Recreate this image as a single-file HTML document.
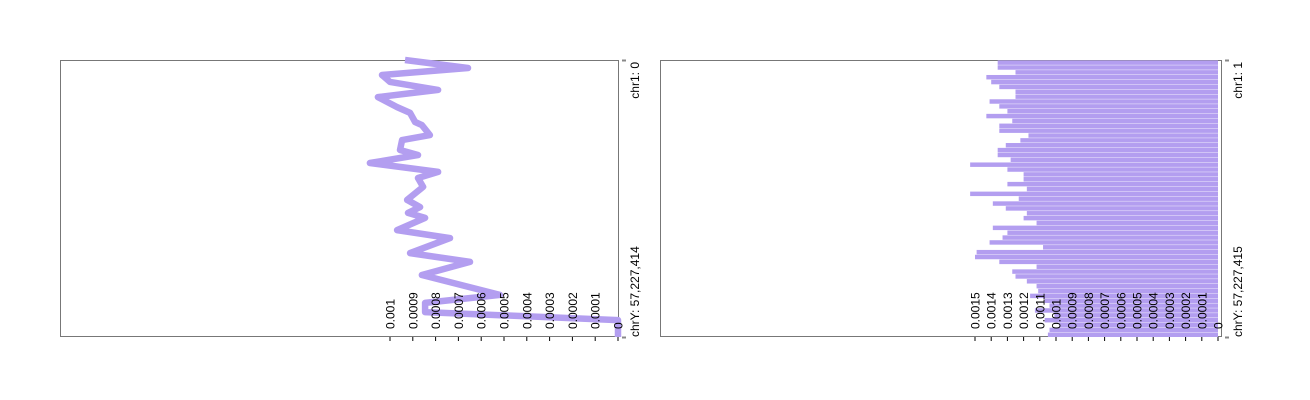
<!DOCTYPE html>
<html><head><meta charset="utf-8"><style>
html,body{margin:0;padding:0;background:#fff;overflow:hidden;}
svg{display:block;font-family:"Liberation Sans",Arial,sans-serif;}
</style></head><body>
<svg id="chart" width="1310" height="400" viewBox="0 0 1310 400">
<rect x="60.5" y="60.5" width="558" height="276" fill="none" stroke="#777"/>
<rect x="660.5" y="60.5" width="561" height="276" fill="none" stroke="#777"/>
<g id="left"></g>
<g id="right"></g>
</svg>
<script>
// Left track: genome position (% of genome) and value (units of 1e-4)
const linePos = [0,2.9,5.4,7.9,10.8,13.4,17.0,19.1,22.4,23.5,27.1,28.9,32.5,34.3,37.2,40.4,42.6,45.8,50.5,53.1,55.2,57.0,61.4,64.3,69.7,72.9,77.6,84.8,87.7,91.0,93.9,100];
const lineVal = [9.34,6.58,10.35,10.0,7.89,10.53,9.69,9.12,8.90,8.60,8.25,9.47,9.56,8.77,10.88,7.89,8.77,8.55,9.25,8.68,9.21,8.46,9.69,7.37,9.12,6.49,8.60,5.18,8.46,8.46,0,0];
const leftTicks = ["0","0.0001","0.0002","0.0003","0.0004","0.0005","0.0006","0.0007","0.0008","0.0009","0.001"];
// Right track: binned values (units of 1e-4), top to bottom
const barVal = [13.6,13.6,12.5,14.3,14.0,13.5,12.5,12.5,14.1,13.5,13.0,14.3,12.7,13.5,13.5,11.7,12.2,13.1,13.6,13.6,12.8,15.3,13.0,12.0,12.0,13.0,11.8,15.3,12.3,13.9,13.1,11.8,12.0,11.2,13.9,13.0,13.3,14.1,10.8,14.9,15.0,13.5,11.2,12.7,12.5,11.8,11.2,11.1,11.6,10.7,10.4,11.3,10.1,10.7,9.8,10.4,10.5];
const rightTicks = ["0","0.0001","0.0002","0.0003","0.0004","0.0005","0.0006","0.0007","0.0008","0.0009","0.001","0.0011","0.0012","0.0013","0.0014","0.0015"];
const leftLabels = ["chr1: 0","chrY: 57,227,414"];
const rightLabels = ["chr1: 1","chrY: 57,227,415"];

const NS="http://www.w3.org/2000/svg";
const yTop=60, yBot=337;
function mk(parent,tag,attrs){const e=document.createElementNS(NS,tag);for(const k in attrs)e.setAttribute(k,attrs[k]);parent.appendChild(e);return e;}
const yPos=p=>yTop+(p/100)*(yBot-yTop);
const xL=v=>618-v*22.8;
const xR=v=>1218-v*16.2;

function axis(g,ticks,xf,name,edgeX,labels){
  ticks.forEach((t,i)=>{
    const x=xf(i);
    const tk=mk(g,"line",{x1:x,x2:x,y1:yBot,y2:yBot+4,stroke:"#000","stroke-width":1});
    
    
    const tx=mk(g,"text",{x:0,y:0,transform:`translate(${x+4.5},${yBot-8}) rotate(-90)`,"font-size":12,fill:"#000"});
    tx.textContent=t;
    
    
  });
  [yTop,yBot].forEach(y=>{
    const l=mk(g,"line",{x1:edgeX+3,x2:edgeX+7,y1:y+0.5,y2:y+0.5,stroke:"#888","stroke-width":2});
    
    
  });
  const a=mk(g,"text",{transform:`translate(${edgeX+20},${yTop+2}) rotate(-90)`,"text-anchor":"end","font-size":12});
  a.textContent=labels[0];
  
  
  const b=mk(g,"text",{transform:`translate(${edgeX+20},${yBot}) rotate(-90)`,"text-anchor":"start","font-size":12});
  b.textContent=labels[1];
  
  
}

const L=document.getElementById('left');
const pts=linePos.map((p,i)=>xL(lineVal[i]).toFixed(1)+","+yPos(p).toFixed(1)).join(" ");
const pl=mk(L,"polyline",{points:pts,fill:"none",stroke:"#b39ef0","stroke-width":6.5,"stroke-linejoin":"round","stroke-linecap":"butt"});


axis(L,leftTicks,xL,'left-axis',619,leftLabels);

const R=document.getElementById('right');
const step=(yBot-yTop)/barVal.length;
barVal.forEach((v,i)=>{
  const r=mk(R,"rect",{x:xR(v),y:yTop+i*step+0.4,width:1218-xR(v),height:step-0.4,fill:"#b39ef0"});
  
  
});
axis(R,rightTicks,xR,'right-axis',1222,rightLabels);
</script>
</body></html>
